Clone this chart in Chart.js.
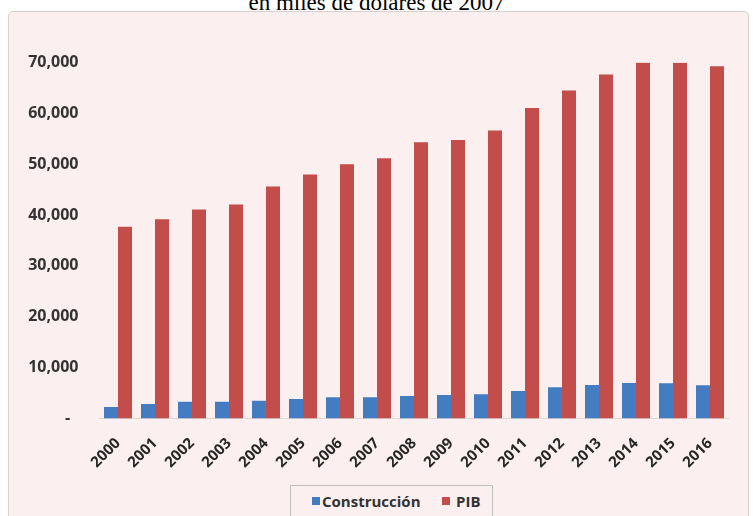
<!DOCTYPE html>
<html>
<head>
<meta charset="utf-8">
<script src="https://cdn.jsdelivr.net/npm/chart.js@4/dist/chart.umd.min.js"></script>
<style>
  html, body { margin: 0; padding: 0; background: #ffffff; width: 753px; height: 516px; overflow: hidden; }
  #title {
    position: absolute; left: 0; width: 753px; top: -9px; text-align: center;
    font-family: "Liberation Serif", "DejaVu Serif", serif; font-size: 23px; color: #000;
    line-height: 23px; white-space: nowrap;
  }
  #panel {
    position: absolute; left: 8px; top: 11px; width: 739px; height: 540px;
    background: #fbf0ef; border: 1px solid #d6d0cf; border-radius: 5px;
  }
  #chart { position: absolute; left: 0; top: 0; }
  #legend {
    position: absolute; left: 290px; top: 485px; width: 201px; height: 45px;
    border: 1px solid #c4c0bf; background: #fbf0ef;
    font-family: "Open Sans", "Liberation Sans", sans-serif; font-weight: 700; font-size: 15px; color: #333333;
  }
  .sw { position: absolute; top: 11px; width: 8px; height: 8px; }
  .lt { position: absolute; top: 5px; line-height: 20px; white-space: nowrap; }
</style>
</head>
<body>
<div id="title">en miles de dólares de 2007</div>
<div id="panel"></div>
<canvas id="chart" width="753" height="516"></canvas>
<div id="legend">
  <span class="sw" style="left:21px; background:#437cc1"></span>
  <span class="lt" style="left:31px">Construcción</span>
  <span class="sw" style="left:151px; background:#c34d4b"></span>
  <span class="lt" style="left:165px">PIB</span>
</div>
<script>
// Años de la serie
const years = ['2000','2001','2002','2003','2004','2005','2006','2007','2008',
               '2009','2010','2011','2012','2013','2014','2015','2016'];
// Valor agregado de la construcción (miles de dólares de 2007)
const construccion = [2260, 2850, 3300, 3300, 3500, 3830, 4170, 4170, 4420,
                      4620, 4750, 5400, 6130, 6590, 6980, 6920, 6530];
// Producto interno bruto (miles de dólares de 2007)
const pib = [37700, 39200, 41100, 42100, 45600, 48000, 50000, 51150, 54300,
             54750, 56650, 61050, 64500, 67650, 69950, 69950, 69250];
// Marcas del eje vertical
const yTicks = [0, 10000, 20000, 30000, 40000, 50000, 60000, 70000];

const fontFamily = '"Open Sans", "Liberation Sans", sans-serif';

new Chart(document.getElementById('chart'), {
  type: 'bar',
  data: {
    labels: years,
    datasets: [
      { label: 'Construcción', data: construccion, backgroundColor: '#437cc1',
        barPercentage: 1, categoryPercentage: 0.757 },
      { label: 'PIB', data: pib, backgroundColor: '#c34d4b',
        barPercentage: 1, categoryPercentage: 0.757 }
    ]
  },
  options: {
    responsive: false,
    animation: false,
    layout: { padding: { left: 0, right: 24.5, top: 62.5, bottom: 0 } },
    plugins: { legend: { display: false }, tooltip: { enabled: false }, title: { display: false } },
    scales: {
      x: {
        grid: { display: false, drawTicks: false },
        border: { display: true, color: '#dcd6d5', width: 1 },
        ticks: { color: '#262626', font: { family: fontFamily, weight: '700', size: 15 },
                 maxRotation: 45, minRotation: 45, padding: 16, autoSkip: false },
        afterFit: (s) => { s.height = 97.5; }
      },
      y: {
        min: 0, max: 70000,
        grid: { display: false, drawTicks: false },
        border: { display: false },
        afterBuildTicks: (s) => { s.ticks = yTicks.map(v => ({ value: v })); },
        ticks: {
          color: '#333333', font: { family: fontFamily, weight: '700', size: 16 }, padding: 21,
          callback: (v) => v === 0 ? '-  ' : v.toLocaleString('en-US')
        },
        afterFit: (s) => { s.width = 99.5; }
      }
    }
  }
});
</script>
</body>
</html>
